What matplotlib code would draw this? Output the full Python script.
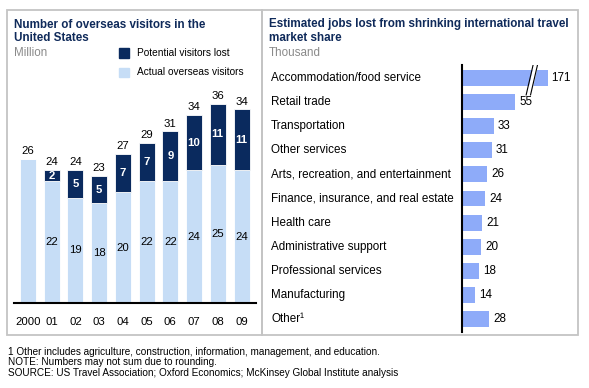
import matplotlib
matplotlib.use("Agg")
import matplotlib.pyplot as plt
import matplotlib.transforms as mtransforms
from matplotlib.patches import Rectangle
from matplotlib.lines import Line2D

plt.rcParams['font.family'] = ['Liberation Sans', 'DejaVu Sans']

years = ["2000", "01", "02", "03", "04", "05", "06", "07", "08", "09"]
actual = [26, 22, 19, 18, 20, 22, 22, 24, 25, 24]
lost = [0, 2, 5, 5, 7, 7, 9, 10, 11, 11]
totals = [26, 24, 24, 23, 27, 29, 31, 34, 36, 34]

sectors = ["Accommodation/food service", "Retail trade", "Transportation",
           "Other services", "Arts, recreation, and entertainment",
           "Finance, insurance, and real estate", "Health care",
           "Administrative support", "Professional services",
           "Manufacturing", "Other¹"]
jobs = [171, 55, 33, 31, 26, 24, 21, 20, 18, 14, 28]
jobs_drawn = [88, 55, 33, 31, 26, 24, 21, 20, 18, 14, 28]  # first bar is broken

W, H = 589, 388
navy = "#0a2a5e"
light = "#c6ddf6"
purple = "#8eabf9"
title_c = "#0f2a5a"
gray_t = "#8a8a8a"

fig = plt.figure(figsize=(W / 100, H / 100), dpi=100)


def px_axes(x0, y0, x1, y1):
    return fig.add_axes([x0 / W, 1 - y1 / H, (x1 - x0) / W, (y1 - y0) / H])


def ftext(x, y, s, **kw):
    fig.text(x / W, 1 - y / H, s, **kw)


# panel borders
for x0, x1 in [(7, 262), (262, 578)]:
    fig.patches.append(Rectangle((x0 / W, 1 - 335 / H), (x1 - x0) / W, 325 / H,
                                 transform=fig.transFigure, fill=False,
                                 edgecolor="#c4c4c4", linewidth=1.3))

# titles
ftext(14, 18.5, "Number of overseas visitors in the\nUnited States", fontsize=8.4,
      fontweight="bold", color=title_c, va="top", linespacing=1.2)
ftext(14, 53, "Million", fontsize=8.4, color=gray_t, va="center")
ftext(269, 18.5, "Estimated jobs lost from shrinking international travel\nmarket share",
      fontsize=8.4, fontweight="bold", color=title_c, va="top", linespacing=1.2)
ftext(269, 53, "Thousand", fontsize=8.4, color=gray_t, va="center")

# legend
fig.patches.append(Rectangle((119 / W, 1 - 58 / H), 10 / W, 10 / H,
                             transform=fig.transFigure, color=navy))
fig.patches.append(Rectangle((119 / W, 1 - 77 / H), 10 / W, 9 / H,
                             transform=fig.transFigure, color=light))
ftext(137, 53, "Potential visitors lost", fontsize=7.3, va="center")
ftext(137, 72, "Actual overseas visitors", fontsize=7.3, va="center")

# left chart
ax = px_axes(14, 90, 256, 303)
x = list(range(len(years)))
ax.bar(x, actual, width=0.675, color=light, edgecolor="white", linewidth=0.6)
ax.bar(x, lost, width=0.675, bottom=actual, color=navy, edgecolor="white", linewidth=0.6)
for i in x:
    ax.annotate(str(totals[i]), (i, actual[i] + lost[i]), xytext=(0, 2),
                textcoords="offset points", ha="center", va="bottom", fontsize=8.2)
    if lost[i]:
        ax.text(i, actual[i] / 2, str(actual[i]), ha="center", va="center", fontsize=8.2)
        ax.text(i, actual[i] + lost[i] / 2, str(lost[i]), ha="center", va="center",
                fontsize=8.2, color="white", fontweight="bold")
ax.set_xlim(-0.59, 9.61)
ax.set_ylim(0, 38.5)
ax.set_xticks(x)
ax.set_xticklabels(years, fontsize=8.2)
ax.tick_params(axis="x", length=0, pad=10)
ax.set_yticks([])
for s in ["top", "right", "left"]:
    ax.spines[s].set_visible(False)
ax.spines["bottom"].set_linewidth(1.5)
ax.patch.set_visible(False)

# right chart
ax2 = px_axes(461.7, 65, 575, 332)
rows = list(range(len(sectors)))
ax2.barh(rows, jobs_drawn, height=0.66, color=purple)
for i in rows:
    ax2.text(jobs_drawn[i] + 4, i, str(jobs[i]), va="center", ha="left", fontsize=8.4)
trans = mtransforms.blended_transform_factory(fig.transFigure, ax2.transData)
for i in rows:
    ax2.text(271 / W, i, sectors[i], transform=trans, va="center", ha="left", fontsize=8.4)
ax2.set_xlim(0, 116)
ax2.set_ylim(10.54, -0.54)
ax2.set_xticks([])
ax2.set_yticks([])
for s in ["top", "right", "bottom"]:
    ax2.spines[s].set_visible(False)
ax2.spines["left"].set_linewidth(1.5)
ax2.patch.set_visible(False)

# break marks on first bar
ax2.fill([68.5, 71.5, 77.5, 74.5], [0.55, 0.55, -0.55, -0.55], color="white", zorder=3)
for dx in (0, 4.5):
    ax2.add_line(Line2D([66 + dx, 74 + dx], [0.7, -0.7], color="black",
                        linewidth=0.8, zorder=4))

# footnotes
ftext(8, 352, "1 Other includes agriculture, construction, information, management, and education.",
      fontsize=7.2, va="center")
ftext(8, 362, "NOTE: Numbers may not sum due to rounding.", fontsize=7.2, va="center")
ftext(8, 372.5, "SOURCE: US Travel Association; Oxford Economics; McKinsey Global Institute analysis",
      fontsize=7.2, va="center")

fig.savefig("out.png", dpi=100)
